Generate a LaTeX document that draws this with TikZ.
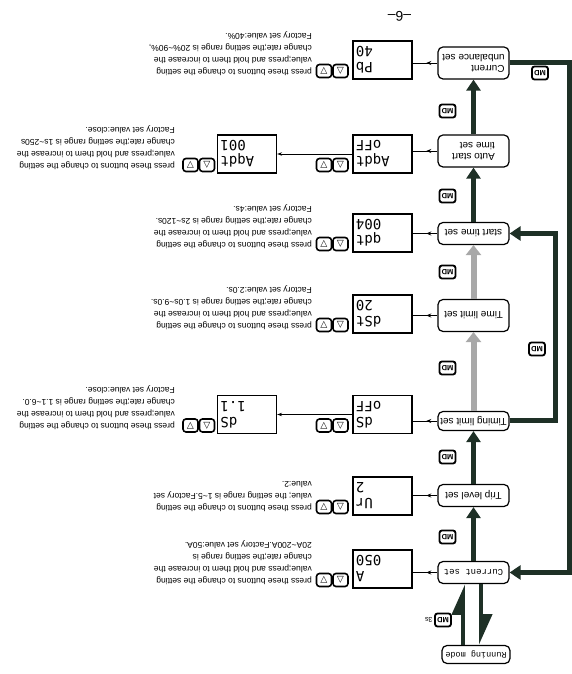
\documentclass[tikz,border=0pt]{standalone}
\usepackage{fontspec}
\setmainfont{Liberation Sans}
\newfontfamily\boxmono{Liberation Mono}
\newfontfamily\lcdfont{DejaVu Sans Mono}
\newfontfamily\symfont{DejaVu Sans}
\usepackage{tikz}
\usetikzlibrary{arrows.meta, calc, decorations.markings}
\definecolor{inkline}{RGB}{30,48,38}
\definecolor{hatchgray}{RGB}{168,168,168}
\tikzset{
  setbox/.style={draw, line width=1.2pt, rounded corners=5pt, minimum width=71pt, minimum height=22pt, inner sep=2pt, align=center, font=\fontsize{10}{11}\selectfont},
  lcd/.style={draw, line width=1.3pt, minimum width=59pt, minimum height=38pt, text width=53pt, align=right, inner sep=0pt, font=\lcdfont\fontsize{14}{16}\selectfont},
  btn/.style={draw, line width=1.6pt, rounded corners=3pt, minimum width=15pt, minimum height=13pt, inner sep=0pt, font=\symfont\fontsize{9}{9}\selectfont},
  mdkey/.style={draw, line width=1.8pt, rounded corners=2.5pt, minimum width=16pt, minimum height=13pt, inner sep=0pt, font=\bfseries\fontsize{7.5}{7.5}\selectfont},
  note/.style={anchor=north west, inner sep=0pt, align=left, font=\fontsize{8.5}{12}\selectfont},
  flow/.style={inkline, line width=4.5pt, -{Triangle[length=11pt,width=14pt]}},
  skip/.style={hatchgray, line width=6pt, -{Triangle[length=10pt,width=15pt]}},
  feed/.style={line width=0.8pt, postaction={decorate}, decoration={markings, mark=at position 0.45 with {\arrow{Stealth[length=5pt,width=4pt]}}}},
  pass/.style={line width=0.8pt, -{Stealth[length=5pt,width=3.5pt]}},
}
\begin{document}
\begin{tikzpicture}[x=1pt, y=-1pt, rotate=180, transform shape]
  \useasboundingbox (0,0) rectangle (572,674);

  % setting steps
  \node[setbox, font=\boxmono\fontsize{8.5}{10}\selectfont, minimum width=68pt, minimum height=18pt] (run) at (96,19.5) {Running mode};
  \node[setbox, font=\boxmono\fontsize{9}{10}\selectfont] (cur) at (98.5,101.5) {Current set};
  \node[setbox] (trip) at (98.5,178.5) {Trip level set};
  \node[setbox, minimum height=19pt] (tim) at (98.5,253) {Timing limit set};
  \node[setbox, minimum height=32pt] (tlim) at (98.5,358.5) {Time limit set};
  \node[setbox] (start) at (98.5,440.5) {start time set};
  \node[setbox, minimum height=32pt, align=left] (auto) at (98.5,523) {Auto start\\time set};
  \node[setbox, minimum height=32pt, align=left] (unbal) at (98.5,611) {Current\\unbalance set};

  % displays
  \node[lcd] (dcur) at (189.5,105) {A\\050};
  \node[lcd] (dtrip) at (189.5,178) {Ur\\2};
  \node[lcd] (dtim) at (189.5,259.5) {dS\\oFF};
  \node[lcd] (dtim2) at (325,259.5) {dS\\1.1};
  \node[lcd] (dtlim) at (189.5,360) {dSt\\20};
  \node[lcd] (dstart) at (189.5,441) {qdt\\004};
  \node[lcd] (dauto) at (189.5,520) {Aqdt\\oFF};
  \node[lcd] (dauto2) at (325,520) {Aqdt\\001};
  \node[lcd] (dunbal) at (189.5,614) {Pb\\40};

  % up / down keys
  \foreach \n/\u/\v in {cur/231.5/94, trip/231.5/167, tim/231.5/248.5, timb/365/248.5, tlim/231.5/349, start/231.5/430, auto/231.5/509, autob/365/509, unbal/231.5/603}{
    \node[btn] (\n up) at (\u,\v) {△};
    \node[btn] (\n dn) at ($(\u,\v)+(16.5,0)$) {▽};
  }

  % notes
  \node[note] (ncur) at (260,89.5) {press these buttons to change the setting\\value;press and hold them to increase the\\change rate;the setting range is\\20A\textasciitilde200A.Factory set value:50A.};
  \node[note] (ntrip) at (260,162.5) {press these buttons to change the setting\\value; the setting range is 1\textasciitilde5.Factory set\\value:2.};
  \node[note] (ntim) at (397,244) {press these buttons to change the setting\\value;press and hold them to increase the\\change rate;the setting range is 1.1\textasciitilde6.0.\\Factory set value:close.};
  \node[note] (ntlim) at (260,344.5) {press these buttons to change the setting\\value;press and hold them to increase the\\change rate;the setting range is 1.0s\textasciitilde9.0s.\\Factory set value:2.0s.};
  \node[note] (nstart) at (260,425.5) {press these buttons to change the setting\\value;press and hold them to increase the\\change rate;the setting range is 2s\textasciitilde120s.\\Factory set value:4s.};
  \node[note] (nauto) at (397,504.5) {press these buttons to change the setting\\value;press and hold them to increase the\\change rate;the setting range is 1s\textasciitilde250s\\Factory set value:close.};
  \node[note] (nunbal) at (260,598.5) {press these buttons to change the setting\\value;press and hold them to increase the\\change rate;the setting range is 20\%\textasciitilde90\%,\\Factory set value:40\%.};

  % MD keys
  \foreach \v in {137,217,306,402,478,563}
    \node[mdkey] (md\v) at (124.5,\v) {MD};
  \node[mdkey] (mdrun) at (129,54) {MD};
  \node[font=\fontsize{7}{7}\selectfont, anchor=west, inner sep=1.5pt] (secs) at (mdrun.east) {3s};
  \node[mdkey] (mdA) at (35,325) {MD};
  \node[mdkey] (mdB) at (32,601) {MD};

  % main flow
  \coordinate (hup) at (91,0);
  \coordinate (hdn) at (109,0);
  \draw[inkline, line width=4pt, -{Triangle[harpoon,length=26pt,width=22pt]}] (cur.north -| hup) -- (run.south -| hup);
  \draw[inkline, line width=4pt, -{Triangle[harpoon,length=26pt,width=22pt]}] (run.south -| hdn) -- (cur.north -| hdn);
  \draw[flow] (cur.south) -- (trip.north);
  \draw[flow] (trip.south) -- (tim.north);
  \draw[skip] (tim.south) -- (tlim.north);
  \draw[skip] (tlim.south) -- (start.north);
  \draw[flow] (start.south) -- (auto.north);
  \draw[flow] (auto.south) -- (unbal.north);

  % loops back
  \coordinate (loopA) at (17,0);
  \coordinate (loopB) at (2.5,0);
  \draw[flow, line width=5pt] (tim.west) -- (tim.west -| loopA) |- (start.west);
  \draw[flow, line width=5pt] (unbal.west) -- (unbal.west -| loopB) |- (cur.west);

  % box to display
  \foreach \b/\d in {cur/dcur, trip/dtrip, tim/dtim, tlim/dtlim, start/dstart, auto/dauto, unbal/dunbal}
    \draw[feed] (\b.east) -- (\b.east -| \d.west);
  \draw[pass] (dtim.east) -- (dtim2.west);
  \draw[pass] (dauto.east) -- (dauto2.west);

  \node[font=\fontsize{14}{14}\selectfont] (pageno) at (172.5,657.5) {–6–};
\end{tikzpicture}
\end{document}
